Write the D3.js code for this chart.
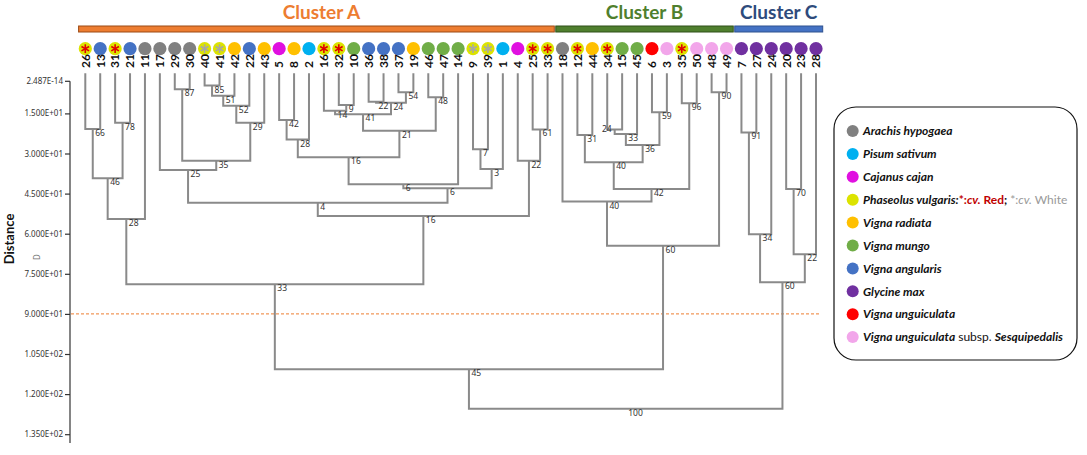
<!DOCTYPE html>
<html><head><meta charset="utf-8">
<script src="https://cdn.jsdelivr.net/npm/d3@7"></script>
<style>body{margin:0;background:#fff} svg{display:block}</style>
</head><body>
<script>
// ---------- DATA ----------
const leaves = ["26","13","31","21","11","17","29","30","40","41","42","22","43","5","8","2","16","32","10","36","38","37","19","46","47","14","9","39","1","4","25","33",
                "18","12","44","34","15","45","6","3","35","50","48","49",
                "7","27","24","20","23","28"];
const leafSpecies = ["PvR","Va","PvR","Va","Ah","Ah","Ah","Ah","PvW","PvW","Vr","Va","Vr","Cc","Vr","Ps","PvR","PvR","Vm","Va","Va","Va","Vr","Vm","Vm","Vm","PvW","PvW","Ps","Cc","PvR","PvR",
                     "Ah","PvR","Vr","PvR","Vm","Vm","Vu","Vus","PvR","Vus","Vus","Vus",
                     "Gm","Gm","Gm","Gm","Gm","Gm"];
const speciesKeys   = ["Ah","Ps","Cc","Pv","Vr","Vm","Va","Gm","Vu","Vus"];
const speciesNames  = ["Arachis hypogaea","Pisum sativum","Cajanus cajan","Phaseolus vulgaris","Vigna radiata","Vigna mungo","Vigna angularis","Glycine max","Vigna unguiculata","Vigna unguiculata subsp. Sesquipedalis"];
const speciesColors = ["#808080","#00B0F0","#E010E0","#DCE300","#FFC000","#70AD47","#4472C4","#7030A0","#FF0000","#F2A6EA"];

// merges: [id, left child, right child, distance, bootstrap support]
const merges = [
  ["a1","26","13",20.8,66], ["a2","31","21",18.5,78], ["a3","a1","a2",39.3,46], ["a4","a3","11",54.5,28],
  ["a5","29","30",6.0,87], ["a6","40","41",4.6,85], ["a7","a6","42",8.4,51], ["a8","a7","22",12.1,52],
  ["a9","a8","43",18.5,29], ["a10","a5","a9",32.7,35], ["a11","17","a10",36.2,25],
  ["a12","5","8",17.5,42], ["a13","a12","2",24.8,28], ["a14","32","10",11.9,9], ["a15","16","a14",14.0,14],
  ["a16","36","38",10.6,22], ["a17","37","19",7.1,54], ["a18","a16","a17",11.0,24], ["a19","a15","a18",15.3,41],
  ["a20","46","47",9.0,48], ["a21","a19","a20",21.5,21], ["a22","a13","a21",31.4,16], ["a23","a22","14",41.5,6],
  ["a24","9","39",28.4,7], ["a25","a24","1",35.8,3], ["a26","a23","a25",43.0,6], ["a27","a11","a26",48.4,4],
  ["a28","25","33",21.0,61], ["a29","4","a28",32.7,22], ["a30","a27","a29",53.4,16], ["a31","a4","a30",78.9,33],
  ["b1","12","44",23.1,31], ["b2","34","15",21.0,24], ["b3","b2","45",22.7,33], ["b4","6","3",14.6,59],
  ["b5","b3","b4",26.8,36], ["b6","b1","b5",33.3,40], ["b7","35","50",11.2,96], ["b8","b6","b7",43.3,42],
  ["b9","18","b8",48.0,40], ["b10","48","49",7.1,90], ["b11","b9","b10",64.5,60],
  ["c1","7","27",22.1,91], ["c2","c1","24",60.2,34], ["c3","20","23",43.3,70], ["c4","c3","28",67.7,22], ["c5","c2","c4",78.2,60],
  ["r1","a31","b11",110.7,45], ["r2","r1","c5",125.5,100]
];
const leftLabelNodes = ["b2"];

const tickValues = [0,15,30,45,60,75,90,105,120,135];
const tickLabels = ["2.487E-14","1.500E+01","3.000E+01","4.500E+01","6.000E+01","7.500E+01","9.000E+01","1.050E+02","1.200E+02","1.350E+02"];
const cutDistance = 90;

const clusterNames  = ["Cluster A","Cluster B","Cluster C"];
const clusterFirst  = ["26","18","7"];
const clusterLast   = ["33","49","28"];
const clusterFill   = ["#ED7D31","#4F7F2E","#4472C4"];
const clusterStroke = ["#9C4A14","#2F5018","#2F528F"];
const clusterText   = ["#ED7D31","#4F7F2E","#2E4B7C"];

// ---------- CHART ----------
const W = 1087, H = 455;
const svg = d3.select("body").append("svg").attr("width", W).attr("height", H);

const x = d3.scalePoint().domain(leaves).range([85.3, 816]);
const y = d3.scaleLinear().domain([0, 135]).range([73.3, 434.2]);
const colorOf = k => speciesColors[speciesKeys.indexOf(k === "Vus" ? k : k.slice(0, 2))];

// build node positions
const nodes = {};
leaves.forEach(l => nodes[l] = {x: x(l), y: y(0), leaf: true});
merges.forEach(([id, a, b, d, s]) => {
  nodes[id] = {x: (nodes[a].x + nodes[b].x) / 2, y: y(d), a, b, s, id};
});

// axis
const axisX = 70;
const gAxis = svg.append("g").attr("transform", `translate(${axisX},0)`)
  .call(d3.axisLeft(y).tickValues(tickValues).tickFormat((d, i) => tickLabels[i]).tickSize(5).tickPadding(2));
gAxis.select(".domain").remove();
gAxis.selectAll(".tick").filter(d => d === 0).attr("transform", `translate(0,${y(0) + 8})`);
gAxis.append("line").attr("x1", 0).attr("x2", 0).attr("y1", y(0) + 8).attr("y2", y(138.3))
  .attr("stroke", "#333").attr("stroke-width", 1.2);
gAxis.selectAll(".tick line").attr("stroke", "#333").attr("stroke-width", 1.2);
gAxis.selectAll(".tick text").attr("fill", "#333").style("font-family", "'Noto Sans', sans-serif").style("font-size", "8px");

svg.append("text").attr("transform", `translate(14,239) rotate(-90)`).attr("text-anchor", "middle")
  .style("font-family", "Lato, sans-serif").style("font-weight", "bold").style("font-size", "13px").attr("fill", "#111").text("Distance");
svg.append("text").attr("transform", `translate(40,257) rotate(-90)`).attr("text-anchor", "middle")
  .style("font-family", "'Noto Sans', sans-serif").style("font-size", "8px").attr("fill", "#777").text("D");

// cut line
svg.append("line").attr("x1", axisX + 1).attr("x2", 820).attr("y1", y(cutDistance)).attr("y2", y(cutDistance))
  .attr("stroke", "#ED7D31").attr("stroke-width", 1).attr("stroke-dasharray", "3,2");

// links
const gLinks = svg.append("g").attr("fill", "none").attr("stroke", "#8a8a8a").attr("stroke-width", 2);
merges.forEach(([id]) => {
  const n = nodes[id], A = nodes[n.a], B = nodes[n.b];
  gLinks.append("path").attr("d", `M${A.x},${A.y}V${n.y}H${B.x}V${B.y}`);
});

// support labels
const gLab = svg.append("g");
merges.forEach(([id]) => {
  const n = nodes[id];
  const left = leftLabelNodes.includes(id);
  gLab.append("text").attr("x", left ? n.x - 3 : n.x + 2.5).attr("y", left ? n.y + 3 : n.y + 7)
    .attr("text-anchor", left ? "end" : "start")
    .style("font-family", "'Noto Sans', sans-serif").style("font-size", "8.5px").style("fill", "#333")
    .text(n.s);
});

// leaf circles
const gLeaf = svg.append("g");
leaves.forEach((l, i) => {
  const cx = x(l), cy = 48.7, sp = leafSpecies[i];
  gLeaf.append("circle").attr("cx", cx).attr("cy", cy).attr("r", 6.6).attr("fill", colorOf(sp));
  if (sp === "PvR" || sp === "PvW") {
    const c = sp === "PvR" ? "#E00000" : "#A8A8A8";
    [90, 30, 150].forEach(a => {
      const r = 4.4, dx = r * Math.cos(a * Math.PI / 180), dy = r * Math.sin(a * Math.PI / 180);
      gLeaf.append("line").attr("x1", cx - dx).attr("y1", cy - dy).attr("x2", cx + dx).attr("y2", cy + dy)
        .attr("stroke", c).attr("stroke-width", 1.6);
    });
  }
  gLeaf.append("text").attr("transform", `translate(${cx},68) rotate(-90)`).attr("dy", "0.36em")
    .style("font-family", "Lato, sans-serif").style("font-weight", "bold").style("font-size", "12px")
    .attr("fill", "#111").text(l);
});

// cluster bars
const half = x.step() * 0.45;
clusterNames.forEach((name, i) => {
  const x0 = x(clusterFirst[i]) - half, x1 = x(clusterLast[i]) + half;
  svg.append("rect").attr("x", x0).attr("y", 26).attr("width", x1 - x0).attr("height", 6)
    .attr("fill", clusterFill[i]).attr("stroke", clusterStroke[i]).attr("stroke-width", 1);
  svg.append("text").attr("x", (x0 + x1) / 2 + (i === 0 ? 5 : 0)).attr("y", 19).attr("text-anchor", "middle")
    .style("font-family", "Lato, sans-serif").style("font-weight", "bold").style("font-size", "19px")
    .attr("fill", clusterText[i]).text(name);
});

// legend
const lg = svg.append("g");
lg.append("rect").attr("x", 834).attr("y", 107).attr("width", 243).attr("height", 253).attr("rx", 22)
  .attr("fill", "#fff").attr("stroke", "#111").attr("stroke-width", 1.2);
speciesNames.forEach((name, i) => {
  const yy = 131 + i * 22.9;
  lg.append("circle").attr("cx", 852.7).attr("cy", yy).attr("r", 6).attr("fill", speciesColors[i]);
  const t = lg.append("text").attr("x", 863).attr("y", yy).attr("dy", "0.35em")
    .style("font-family", "Lato, sans-serif").style("font-size", "12px").style("font-weight", "bold").attr("fill", "#111");
  if (speciesKeys[i] === "Pv") {
    t.append("tspan").style("font-style", "italic").text(name + ":");
    t.append("tspan").attr("fill", "#C00000").text("*:");
    t.append("tspan").attr("fill", "#C00000").style("font-style", "italic").text("cv.");
    t.append("tspan").attr("fill", "#C00000").text(" Red");
    t.append("tspan").text("; ");
    t.append("tspan").attr("fill", "#999").style("font-weight", "normal").text("*:");
    t.append("tspan").attr("fill", "#999").style("font-weight", "normal").style("font-style", "italic").text("cv.");
    t.append("tspan").attr("fill", "#999").style("font-weight", "normal").text(" White");
  } else if (speciesKeys[i] === "Vus") {
    t.append("tspan").style("font-style", "italic").text("Vigna unguiculata");
    t.append("tspan").style("font-weight", "normal").text(" subsp. ");
    t.append("tspan").style("font-style", "italic").text("Sesquipedalis");
  } else {
    t.append("tspan").style("font-style", "italic").text(name);
  }
});
</script>
</body></html>
